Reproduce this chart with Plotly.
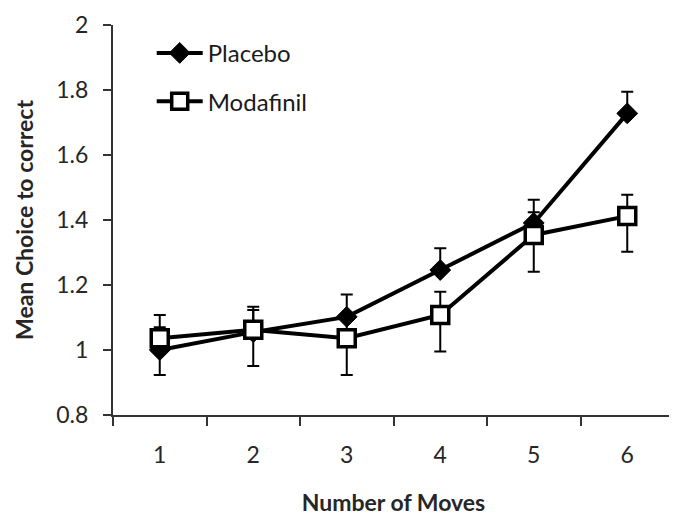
import plotly.graph_objects as go

moves = ["1", "2", "3", "4", "5", "6"]

placebo_mean = [1.000, 1.055, 1.102, 1.246, 1.391, 1.728]
placebo_err_plus = [0.070, 0.068, 0.069, 0.067, 0.071, 0.067]
placebo_err_minus = [0, 0, 0, 0, 0, 0]

modafinil_mean = [1.036, 1.062, 1.036, 1.108, 1.354, 1.412]
modafinil_err_plus = [0.072, 0.071, 0.070, 0.071, 0.070, 0.066]
modafinil_err_minus = [0.113, 0.111, 0.113, 0.113, 0.113, 0.110]

y_tickvals = [0.8, 1.0, 1.2, 1.4, 1.6, 1.8, 2.0]
y_ticktext = ["0.8", "1", "1.2", "1.4", "1.6", "1.8", "2"]

FONT = "Lato"
TXT = "#262626"
FS = 23

fig = go.Figure()
fig.add_trace(go.Scatter(
    x=moves, y=placebo_mean, name="Placebo", mode="lines+markers",
    legendgroup="p",
    line=dict(color="black", width=4),
    marker=dict(symbol="diamond", size=16, color="black", line=dict(color="black", width=1)),
    error_y=dict(type="data", symmetric=False, array=placebo_err_plus,
                 arrayminus=placebo_err_minus, color="black", thickness=2, width=6),
))
fig.add_trace(go.Scatter(
    x=moves, y=modafinil_mean, name="Modafinil", mode="lines+markers",
    legendgroup="m",
    line=dict(color="black", width=4),
    marker=dict(symbol="square", size=17, color="white", line=dict(color="black", width=3.5)),
    error_y=dict(type="data", symmetric=False, array=modafinil_err_plus,
                 arrayminus=modafinil_err_minus, color="black", thickness=2, width=6),
))

# page body has an 8px margin, so the figure is 8px smaller and margins shifted
fig.update_layout(
    width=669, height=508,
    margin=dict(l=105, r=3, t=17, b=101, autoexpand=False),
    paper_bgcolor="white", plot_bgcolor="white",
    font=dict(family=FONT, size=FS, color=TXT),
    showlegend=True,
    legend=dict(x=0.069, y=0.985, xanchor="left", yanchor="top",
                bgcolor="rgba(0,0,0,0)", tracegroupgap=14, itemwidth=46,
                font=dict(family=FONT, size=24, color="#1a1a1a")),
)
fig.update_xaxes(
    type="category", range=[-0.5, 5.5], automargin=False,
    showline=True, linecolor="#333333", linewidth=2,
    ticks="outside", ticklen=9, tickwidth=2, tickcolor="#333333",
    tickson="boundaries", ticklabelstandoff=18,
    showgrid=False, zeroline=False,
    tickfont=dict(family=FONT, size=FS, color=TXT),
    title=dict(text="<b>Number of Moves</b>", standoff=36,
               font=dict(family=FONT, size=FS, color=TXT)),
)
fig.update_yaxes(
    range=[0.8, 2.0], tickvals=y_tickvals, ticktext=y_ticktext, automargin=False,
    showline=True, linecolor="#333333", linewidth=2,
    ticks="outside", ticklen=8, tickwidth=2, tickcolor="#333333",
    ticklabelstandoff=10,
    showgrid=False, zeroline=False,
    tickfont=dict(family=FONT, size=FS, color=TXT),
    title=dict(text="<b>Mean Choice to correct</b>", standoff=16,
               font=dict(family=FONT, size=FS, color=TXT)),
)

fig.write_html("out.html")
